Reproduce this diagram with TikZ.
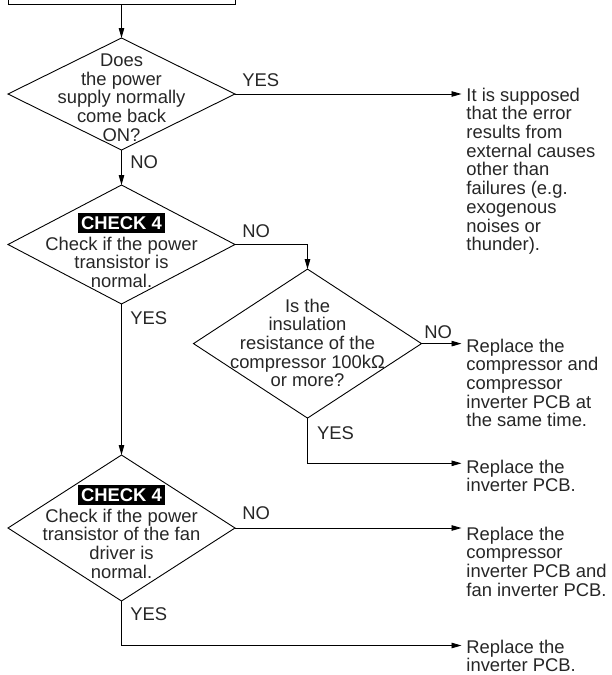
\documentclass[tikz,border=0pt]{standalone}
\usepackage{fontspec}
\setmainfont{Liberation Sans}
\usetikzlibrary{shapes.geometric,arrows.meta}
\begin{document}
\begin{tikzpicture}[x=1pt,y=-1pt,line width=.9pt,
  dec/.style={draw,shape=diamond,minimum width=227pt,inner sep=0pt,outer sep=0pt},
  txt/.style={inner sep=0pt,text=black!85,font=\fontsize{18.4}{18.7}\selectfont,align=center,anchor=north},
  res/.style={txt,align=left,anchor=north west,inner xsep=4.5pt},
  lbl/.style={inner sep=0pt,text=black!85,font=\fontsize{18.4}{18.7}\selectfont,anchor=west},
  chk/.style={fill=black,text=white,font=\fontsize{18.4}{18.7}\selectfont\bfseries,inner xsep=3pt,inner ysep=3.4pt,text height=13.2pt,text depth=0pt},
  arr/.style={-{Triangle[length=10pt,width=5.5pt]}}]
\useasboundingbox (0,0) rectangle (611,675);
% previous step, cut off at the top
\node[draw,minimum width=227pt,minimum height=30pt,inner sep=0pt,outer sep=0pt] (prev) at (121.5,-11){};
% decisions
\node[dec,minimum height=112pt] (d1) at (121.5,94){};\node[txt] (t1) at (121.5,53.4){Does\\the power\\supply normally\\come back\\ON?};
\node[dec,minimum height=119pt] (d2) at (121.5,244.5){};\node[chk] (k2) at (121.5,223){CHECK 4};
\node[txt] (t2) at (121.5,236.4){Check if the power\\transistor is\\normal.};
\node[dec,minimum height=149pt,minimum width=228pt] (d3) at (307.5,343.6){};
\node[txt] (t3) at (307.5,298.4){Is the\\insulation\\resistance of the\\compressor 100kΩ\\or more?};
\node[dec,minimum height=146pt] (d4) at (121.5,528){};\node[chk] (k4) at (121.5,495){CHECK 4};
\node[txt] (t4) at (121.5,508.4){Check if the power\\transistor of the fan\\driver is\\normal.};
% results
\node[res] (r1) at (461.5,87.4){It is supposed\\that the error\\results from\\external causes\\other than\\failures (e.g.\\exogenous\\noises or\\thunder).};
\node[res] (r3) at (461.5,338.4){Replace the\\compressor and\\compressor\\inverter PCB at\\the same time.};
\node[res] (r4) at (461.5,459.4){Replace the\\inverter PCB.};
\node[res] (r5) at (461.5,526.4){Replace the\\compressor\\inverter PCB and\\fan inverter PCB.};
\node[res] (r6) at (461.5,639.5){Replace the\\inverter PCB.};
% yes / no
\node[lbl] (y1) at (242,80){YES};\node[lbl] (n1) at (130,162){NO};
\node[lbl] (n2) at (242,230.7){NO};\node[lbl] (y2) at (130,317.7){YES};
\node[lbl] (n3) at (424,331.7){NO};\node[lbl] (y3) at (316.7,433){YES};
\node[lbl] (n4) at (242,513){NO};\node[lbl] (y4) at (130,614){YES};
\coordinate (b3) at (307.5,463.3);\coordinate (b4) at (121.5,645.5);
% connectors
\draw[arr] (prev.south)--(d1.north);\draw[arr] (d1.east)--(d1.east-|r1.west);\draw[arr] (d1.south)--(d2.north);
\draw[arr] (d2.east)-|(d3.north);\draw[arr] (d2.south)--(d4.north);
\draw[arr] (d3.east)--(d3.east-|r3.west);\draw[arr] (d3.south)--(b3)--(b3-|r4.west);
\draw[arr] (d4.east)--(d4.east-|r5.west);\draw[arr] (d4.south)--(b4)--(b4-|r6.west);
\end{tikzpicture}
\end{document}
